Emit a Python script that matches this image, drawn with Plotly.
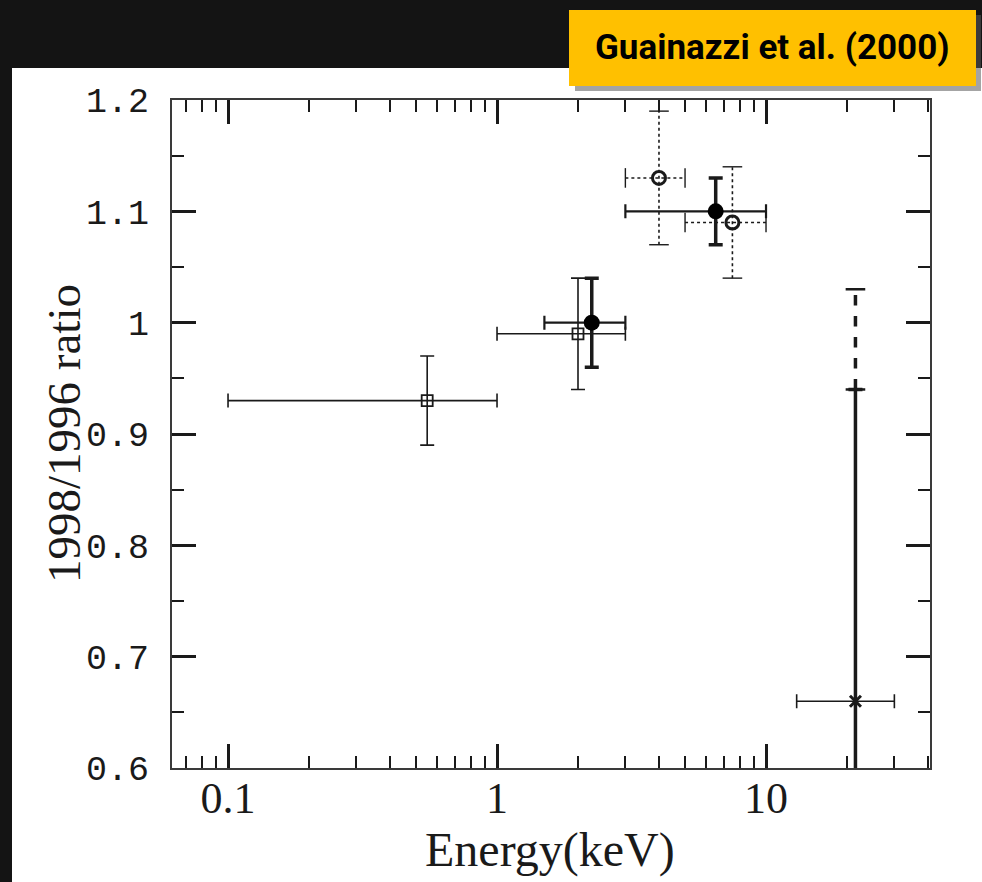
import math
import plotly.graph_objects as go

# ---------------- data ----------------
# open squares (thin solid error bars)
sq_energy = [0.55, 2.0]
sq_ratio = [0.93, 0.99]
sq_e_lo = [0.1, 1.0]
sq_e_hi = [1.0, 3.0]
sq_r_lo = [0.89, 0.94]
sq_r_hi = [0.97, 1.04]

# filled circles (thick error bars)
fc_energy = [2.25, 6.5]
fc_ratio = [1.00, 1.10]
fc_e_lo = [1.5, 3.0]
fc_e_hi = [3.0, 10.0]
fc_r_lo = [0.96, 1.07]
fc_r_hi = [1.04, 1.13]

# open circles (dotted error bars)
oc_energy = [4.0, 7.5]
oc_ratio = [1.13, 1.09]
oc_e_lo = [3.0, 5.0]
oc_e_hi = [5.0, 10.0]
oc_r_lo = [1.07, 1.04]
oc_r_hi = [1.19, 1.14]

# hard band cross
hx_energy = [21.5]
hx_ratio = [0.66]
hx_e_lo = [13.0]
hx_e_hi = [30.0]
hx_r_lo = [0.40]
hx_r_hi = [0.94]
hx_r_hi_ext = [1.03]

x_tick_vals = [0.1, 1, 10]
x_tick_text = ["0.1", "1", "10"]
x_minor_vals = [0.07, 0.08, 0.09, 0.2, 0.3, 0.4, 0.5, 0.6, 0.7, 0.8, 0.9,
                2, 3, 4, 5, 6, 7, 8, 9, 20, 30, 40]
y_tick_vals = [0.6, 0.7, 0.8, 0.9, 1.0, 1.1, 1.2]
y_tick_text = ["0.6", "0.7", "0.8", "0.9", "1", "1.1", "1.2"]
y_minor_vals = [0.65, 0.75, 0.85, 0.95, 1.05, 1.15]

title_text = "Guainazzi et al. (2000)"
x_title = "Energy(keV)"
y_title = "1998/1996 ratio"

# ---------------- layout geometry ----------------
W, H = 982, 882
L, R, T, B = 172, 52, 100, 114
PW, PH = W - L - R, H - T - B


def px(xp):
    return (xp - L) / PW


def py(yp):
    return (H - B - yp) / PH


INK = "#1a1a1a"
fig = go.Figure()


def solid_err(x, y, xlo, xhi, ylo, yhi, xw, yw):
    return dict(
        error_x=dict(type="data", symmetric=False,
                     array=[h - v for h, v in zip(xhi, x)],
                     arrayminus=[v - lo for v, lo in zip(x, xlo)],
                     thickness=xw, width=7, color=INK),
        error_y=dict(type="data", symmetric=False,
                     array=[h - v for h, v in zip(yhi, y)],
                     arrayminus=[v - lo for v, lo in zip(y, ylo)],
                     thickness=yw, width=7, color=INK),
    )


def seg(xs, ys, width, dash, cap_symbol, cap_w):
    fig.add_trace(go.Scatter(
        x=xs, y=ys, mode="lines+markers",
        line=dict(color=INK, width=width, dash=dash),
        marker=dict(symbol=cap_symbol, size=14, color=INK,
                    line=dict(color=INK, width=cap_w)),
        hoverinfo="skip", showlegend=False))


# open squares
fig.add_trace(go.Scatter(
    x=sq_energy, y=sq_ratio, mode="markers",
    marker=dict(symbol="square-open", size=11, color=INK, line=dict(width=1.8, color=INK)),
    showlegend=False,
    **solid_err(sq_energy, sq_ratio, sq_e_lo, sq_e_hi, sq_r_lo, sq_r_hi, 1.6, 1.6)))

# filled circles
fig.add_trace(go.Scatter(
    x=fc_energy, y=fc_ratio, mode="markers",
    marker=dict(symbol="circle", size=16, color="black"),
    showlegend=False,
    **solid_err(fc_energy, fc_ratio, fc_e_lo, fc_e_hi, fc_r_lo, fc_r_hi, 2.2, 3.5)))

# dotted open circles
for i in range(len(oc_energy)):
    seg([oc_e_lo[i], oc_e_hi[i]], [oc_ratio[i], oc_ratio[i]], 1.6, "dot", "line-ns", 1.4)
    seg([oc_energy[i], oc_energy[i]], [oc_r_lo[i], oc_r_hi[i]], 1.6, "dot", "line-ew", 1.4)
fig.add_trace(go.Scatter(
    x=oc_energy, y=oc_ratio, mode="markers",
    marker=dict(symbol="circle-open", size=13, color=INK, line=dict(width=3, color=INK)),
    showlegend=False))

# hard band point
for i in range(len(hx_energy)):
    seg([hx_energy[i], hx_energy[i]], [hx_r_hi[i], hx_r_hi_ext[i]], 3.5, "dash", "line-ew", 2.5)
fig.add_trace(go.Scatter(
    x=hx_energy, y=hx_ratio, mode="markers",
    marker=dict(symbol="x-thin-open", size=11, color=INK, line=dict(width=3, color=INK)),
    showlegend=False,
    **solid_err(hx_energy, hx_ratio, hx_e_lo, hx_e_hi, hx_r_lo, hx_r_hi, 1.6, 3.5)))

axis_common = dict(
    showline=True, linecolor="#3a3a3a", linewidth=2, mirror="ticks",
    ticks="inside", ticklen=24, tickwidth=2.5, tickcolor=INK,
    showgrid=False, zeroline=False, tickmode="array",
)

fig.update_xaxes(
    type="log", range=[math.log10(0.0619), math.log10(40.7)],
    tickvals=x_tick_vals, ticktext=x_tick_text,
    tickfont=dict(family="Liberation Serif", size=44, color=INK),
    ticklabelstandoff=-10,
    minor=dict(tickmode="array", tickvals=x_minor_vals, ticks="inside",
               ticklen=12, tickwidth=2, tickcolor=INK),
    **axis_common)
fig.update_yaxes(
    range=[0.6, 1.2],
    tickvals=y_tick_vals, ticktext=y_tick_text,
    tickfont=dict(family="Liberation Mono", size=35, color=INK),
    ticklabelstandoff=14,
    minor=dict(tickmode="array", tickvals=y_minor_vals, ticks="inside",
               ticklen=12, tickwidth=2, tickcolor=INK),
    **axis_common)

shapes = [
    # white page panel
    dict(type="rect", xref="paper", yref="paper", layer="below",
         x0=px(12), x1=px(990), y0=py(890), y1=py(68),
         fillcolor="white", line=dict(width=0)),
    # label shadow
    dict(type="rect", xref="paper", yref="paper", layer="above",
         x0=px(575), x1=px(981), y0=py(91), y1=py(15),
         fillcolor="rgba(90,90,90,0.55)", line=dict(width=0)),
    # label box
    dict(type="rect", xref="paper", yref="paper", layer="above",
         x0=px(569), x1=px(976), y0=py(86), y1=py(10),
         fillcolor="#FFC000", line=dict(width=0)),
]

annotations = [
    dict(text=f"<b>{title_text}</b>", xref="paper", yref="paper",
         x=px(772), y=py(48), xanchor="center", yanchor="middle", showarrow=False,
         font=dict(family="Roboto", size=35, color="black", weight=900)),
    dict(text=x_title, xref="paper", yref="paper", x=px(550), y=py(850),
         xanchor="center", yanchor="middle", showarrow=False,
         font=dict(family="Liberation Serif", size=48, color=INK)),
    dict(text=y_title, xref="paper", yref="paper", x=px(64), y=py(433),
         xanchor="center", yanchor="middle", showarrow=False, textangle=-90,
         font=dict(family="Liberation Serif", size=47, color=INK)),
]

fig.update_layout(
    width=W, height=H,
    margin=dict(l=L, r=R, t=T, b=B, pad=0),
    paper_bgcolor="#141414", plot_bgcolor="white",
    shapes=shapes, annotations=annotations, showlegend=False,
)

fig.write_html("out.html",
               config={"displayModeBar": False},
               post_script="document.body.style.margin='0';"
                           "document.body.style.background='#141414';")
